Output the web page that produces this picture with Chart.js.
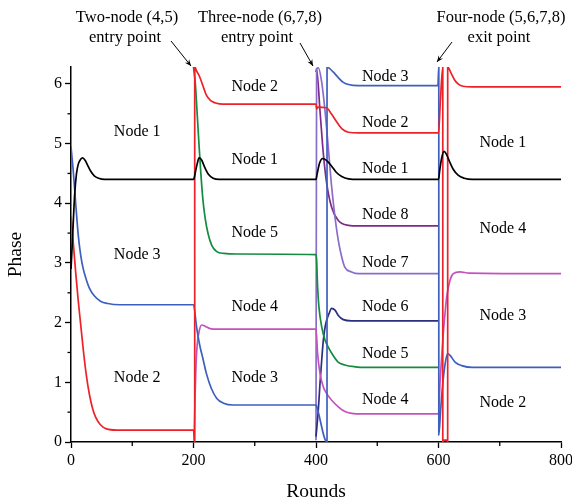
<!DOCTYPE html>
<html><head><meta charset="utf-8">
<script src="https://cdn.jsdelivr.net/npm/chart.js@4/dist/chart.umd.min.js"></script>
<style>html,body{margin:0;padding:0;background:#fff;}#wrap{width:572px;height:504px;}</style>
</head><body><div id="wrap"><canvas id="c" width="572" height="504"></canvas></div>
<script>
const TWO_PI = 2 * Math.PI;
const xMajorTicks = [0, 200, 400, 600, 800];
const xMinorTicks = [100, 300, 500, 700];
const yMajorTicks = [0, 1, 2, 3, 4, 5, 6];
const yMinorTicks = [0.5, 1.5, 2.5, 3.5, 4.5, 5.5];

const node1Rounds = [0,2,4,6,9,12,16,19,23,27,32,38,45,55,70,200,201,203,206,209,213,218,224,232,242,400,402,406,411,417,425,433,442,453,470,600,602,605,609,613,618,624,632,642,655,800];
const node1Phase  = [2.9,3.3,3.75,4.15,4.5,4.66,4.74,4.76,4.72,4.64,4.54,4.46,4.42,4.4,4.4,4.4,4.42,4.52,4.66,4.76,4.73,4.61,4.49,4.42,4.4,4.4,4.5,4.68,4.75,4.72,4.63,4.52,4.45,4.41,4.4,4.4,4.55,4.75,4.87,4.82,4.7,4.57,4.47,4.42,4.4,4.4];

const node2Rounds = [0,4,8,12,16,20,25,30,35,40,48,58,75,200,202,202.01,205,210,216,221,228,236,248,400,401,403,417,425,434,442,453,470,600,603,607,607.01,608,614,615,615.01,617,621,626,632,640,655,800];
const node2Phase  = [3.78,3.3,2.8,2.35,1.95,1.55,1.12,0.8,0.57,0.42,0.29,0.22,0.2,0.2,0,6.283,6.22,6.12,5.95,5.81,5.72,5.68,5.66,5.66,5.58,5.61,5.6,5.5,5.36,5.25,5.19,5.18,5.18,5.7,6.283,0,0.03,0.03,0,6.283,6.26,6.17,6.07,6.0,5.96,5.95,5.95];

const node3Rounds = [0,4,8,12,16,20,25,30,38,48,60,80,200,205,210,216,221,229,238,249,265,400,401,418,418.01,422,428,436,444,453,469,599,600.5,600.51,603.5,607,611,615,619,627,638,655,800];
const node3Phase  = [4.95,4.5,3.95,3.45,3.12,2.9,2.72,2.58,2.45,2.36,2.32,2.3,2.3,1.93,1.63,1.37,1.15,0.9,0.73,0.65,0.62,0.62,0.6,0,6.283,6.26,6.2,6.11,6.03,5.99,5.97,5.97,6.283,0.12,0.54,0.98,1.32,1.48,1.45,1.34,1.28,1.25,1.25];

const node4Rounds = [201,202.4,204,206.2,209.5,213.3,219,227,240,400,402.6,406.5,412,417.5,425.6,436.4,447.3,458,475,600,602.4,605.2,607.8,610.6,613.4,618.8,624.2,635,650,800];
const node4Phase  = [0.02,0.7,1.26,1.65,1.87,1.96,1.94,1.9,1.89,1.89,1.48,1.15,0.92,0.81,0.7,0.59,0.51,0.48,0.47,0.47,0.98,1.43,1.82,2.15,2.43,2.71,2.82,2.85,2.83,2.82];

const node5Rounds = [200,203,206,209,212,215,219,224,230,238,250,270,400,401,402.6,404.8,409.3,414.7,420,428,436,447,464,480,600];
const node5Phase  = [6.283,6.0,5.5,4.98,4.5,4.1,3.75,3.48,3.29,3.19,3.16,3.15,3.14,3.04,2.6,2.26,1.93,1.71,1.59,1.45,1.34,1.29,1.26,1.25,1.25];

const node6Rounds = [400,403.8,406.5,409.3,412,415.8,421.2,425.6,431,436.4,444.6,458,600];
const node6Phase  = [0.09,0.54,0.98,1.37,1.71,1.98,2.15,2.24,2.21,2.12,2.05,2.03,2.03];

const node7Rounds = [400,401,403.8,409,414.7,420,425.6,431,436.4,442,447,458,470,600];
const node7Phase  = [0.03,6.25,6.27,6.05,5.55,4.94,4.27,3.77,3.38,3.1,2.93,2.85,2.82,2.82];

const node8Rounds = [400,401,406.5,412,417.5,425.6,436.4,452.8,469,600];
const node8Phase  = [6.2,6.25,5.55,4.83,4.33,3.93,3.71,3.63,3.62,3.62];

const nodeLabels = [
  ['Node 1',108,5.20],['Node 3',108,3.14],['Node 2',108,1.07],
  ['Node 2',300,5.95],['Node 1',300,4.73],['Node 5',300,3.51],['Node 4',300,2.27],['Node 3',300,1.07],
  ['Node 3',513,6.12],['Node 2',513,5.35],['Node 1',513,4.57],['Node 8',513,3.80],['Node 7',513,3.01],['Node 6',513,2.26],['Node 5',513,1.47],['Node 4',513,0.70],
  ['Node 1',705,5.02],['Node 4',705,3.58],['Node 3',705,2.12],['Node 2',705,0.65]
];
const annotations = [
  {lines:['Two-node (4,5)','entry point'], cx:[127,125], from:[171,41], to:[191,66]},
  {lines:['Three-node (6,7,8)','entry point'], cx:[260,257], from:[300,43], to:[313,66]},
  {lines:['Four-node (5,6,7,8)','exit point'], cx:[501,499], from:[452,42], to:[437,62]}
];

const series = [
  {label:'Node 1', r:node1Rounds, p:node1Phase, color:'#000000'},
  {label:'Node 2', r:node2Rounds, p:node2Phase, color:'#EE2128'},
  {label:'Node 3', r:node3Rounds, p:node3Phase, color:'#3F5FBF'},
  {label:'Node 4', r:node4Rounds, p:node4Phase, color:'#C452BE'},
  {label:'Node 5', r:node5Rounds, p:node5Phase, color:'#138C40'},
  {label:'Node 6', r:node6Rounds, p:node6Phase, color:'#2B2F80'},
  {label:'Node 7', r:node7Rounds, p:node7Phase, color:'#8A6DCB'},
  {label:'Node 8', r:node8Rounds, p:node8Phase, color:'#7D2B8B'}
];

const SERIF = '"Liberation Serif", "Times New Roman", serif';

const textPlugin = {
  id: 'texts',
  afterDraw(chart) {
    const {ctx, scales:{x, y}} = chart;
    ctx.save();
    ctx.strokeStyle = '#000'; ctx.lineWidth = 1.3;
    xMinorTicks.forEach(v => { const px = x.getPixelForValue(v); ctx.beginPath(); ctx.moveTo(px, y.bottom); ctx.lineTo(px, y.bottom + 4); ctx.stroke(); });
    yMinorTicks.forEach(v => { const py = y.getPixelForValue(v); ctx.beginPath(); ctx.moveTo(x.left, py); ctx.lineTo(x.left - 3.5, py); ctx.stroke(); });
    ctx.fillStyle = '#000';
    ctx.font = '16px ' + SERIF; ctx.textAlign = 'center'; ctx.textBaseline = 'middle';
    nodeLabels.forEach(l => ctx.fillText(l[0], x.getPixelForValue(l[1]), y.getPixelForValue(l[2])));
    ctx.font = '16.5px ' + SERIF; ctx.textBaseline = 'alphabetic';
    annotations.forEach(a => {
      ctx.fillText(a.lines[0], a.cx[0], 22);
      ctx.fillText(a.lines[1], a.cx[1], 42);
      const [x1, y1] = a.from, [x2, y2] = a.to;
      ctx.lineWidth = 1;
      ctx.beginPath(); ctx.moveTo(x1, y1); ctx.lineTo(x2, y2); ctx.stroke();
      const ang = Math.atan2(y2 - y1, x2 - x1), L = 7, w = 0.4;
      ctx.beginPath();
      ctx.moveTo(x2, y2);
      ctx.lineTo(x2 - L * Math.cos(ang - w), y2 - L * Math.sin(ang - w));
      ctx.lineTo(x2 - L * 0.6 * Math.cos(ang), y2 - L * 0.6 * Math.sin(ang));
      ctx.lineTo(x2 - L * Math.cos(ang + w), y2 - L * Math.sin(ang + w));
      ctx.closePath(); ctx.fill();
    });
    ctx.restore();
  }
};

new Chart(document.getElementById('c'), {
  type: 'line',
  data: {
    datasets: series.map(s => ({
      label: s.label,
      data: s.r.map((v, i) => ({x: v, y: s.p[i]})),
      borderColor: s.color,
      borderWidth: 1.7,
      pointRadius: 0,
      fill: false,
      cubicInterpolationMode: 'monotone'
    }))
  },
  options: {
    responsive: false,
    animation: false,
    devicePixelRatio: 1,
    layout: {padding: {left: 0, right: 11, top: 67, bottom: 0}},
    plugins: {legend: {display: false}, tooltip: {enabled: false}},
    scales: {
      x: {
        type: 'linear', min: 0, max: 800,
        ticks: {stepSize: 200, color: '#000', font: {family: SERIF, size: 16}, padding: 3, maxRotation: 0},
        afterBuildTicks: s => { s.ticks = xMajorTicks.map(v => ({value: v})); },
        grid: {drawOnChartArea: false, drawTicks: true, tickLength: 6, tickColor: '#000', tickWidth: 1.3},
        border: {display: true, color: '#000', width: 1.5},
        title: {display: true, text: 'Rounds', color: '#000', font: {family: SERIF, size: 19.5}, padding: {top: 0, bottom: 0}},
        afterFit: s => { s.height = 62; s.paddingLeft = 0; s.paddingRight = 0; }
      },
      y: {
        type: 'linear', min: 0, max: TWO_PI,
        ticks: {stepSize: 1, color: '#000', font: {family: SERIF, size: 16}, padding: 3},
        afterBuildTicks: s => { s.ticks = yMajorTicks.map(v => ({value: v})); },
        grid: {drawOnChartArea: false, drawTicks: true, tickLength: 6, tickColor: '#000', tickWidth: 1.3},
        border: {display: true, color: '#000', width: 1.5},
        title: {display: true, text: 'Phase', color: '#000', font: {family: SERIF, size: 19.5}, padding: {top: 4, bottom: 0}},
        afterFit: s => { s.width = 71; s.paddingTop = 0; s.paddingBottom = 0; }
      }
    }
  },
  plugins: [textPlugin]
});
</script></body></html>
